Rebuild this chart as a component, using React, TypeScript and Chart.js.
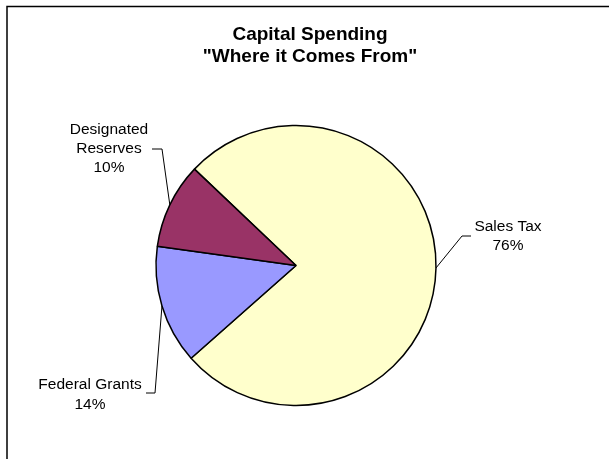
import React, { useEffect, useRef } from "react";
import { Chart, registerables } from "chart.js";

Chart.register(...registerables);

// ---- data ----
const categories = ["Sales Tax", "Federal Grants", "Designated Reserves"];
const labelNameLines = [["Sales Tax"], ["Federal Grants"], ["Designated", "Reserves"]];
const values = [76.4, 13.7, 9.9];
const sliceColors = ["#FFFFCC", "#9999FF", "#993366"];
const titleLines = ["Capital Spending", "\"Where it Comes From\""];

// ---- layout of the outside labels (canvas px) ----
const labelLayout = [
  { textX: 508, firstY: 227, lineGap: 19, elbow: [462, 236], end: [471, 236] },
  { textX: 90, firstY: 385, lineGap: 20, elbow: [155, 393], end: [146, 393] },
  { textX: 109, firstY: 130, lineGap: 19, elbow: [162, 149], end: [152, 149] },
];

const FONT = 'Arial, "Liberation Sans", sans-serif';

const decorPlugin = {
  id: "decor",
  beforeDraw(chart: any) {
    const ctx = chart.ctx;
    ctx.save();
    ctx.fillStyle = "#ffffff";
    ctx.fillRect(0, 0, chart.width, chart.height);
    // frame
    ctx.strokeStyle = "#000";
    ctx.lineWidth = 1.5;
    ctx.beginPath();
    ctx.moveTo(7, chart.height);
    ctx.lineTo(7, 6.5);
    ctx.lineTo(chart.width, 6.5);
    ctx.stroke();
    // title
    ctx.fillStyle = "#000";
    ctx.font = `bold 19px ${FONT}`;
    ctx.textAlign = "center";
    ctx.textBaseline = "alphabetic";
    ctx.fillText(titleLines[0], 310, 40);
    ctx.fillText(titleLines[1], 310, 62);
    ctx.restore();
  },
  afterDatasetsDraw(chart: any) {
    const ctx = chart.ctx;
    const meta = chart.getDatasetMeta(0);
    const data = chart.data.datasets[0].data as number[];
    const total = data.reduce((a, b) => a + b, 0);
    ctx.save();
    meta.data.forEach((arc: any, i: number) => {
      const lay = labelLayout[i];
      const mid = (arc.startAngle + arc.endAngle) / 2;
      const sx = arc.x + Math.cos(mid) * arc.outerRadius;
      const sy = arc.y + Math.sin(mid) * arc.outerRadius;
      ctx.strokeStyle = "#000";
      ctx.lineWidth = 1;
      ctx.beginPath();
      ctx.moveTo(sx, sy);
      ctx.lineTo(lay.elbow[0], lay.elbow[1]);
      ctx.lineTo(lay.end[0], lay.end[1]);
      ctx.stroke();
      const lines = [...labelNameLines[i], Math.round((data[i] / total) * 100) + "%"];
      ctx.fillStyle = "#000";
      ctx.font = `15.5px ${FONT}`;
      ctx.textAlign = "center";
      ctx.textBaseline = "middle";
      lines.forEach((t, k) => ctx.fillText(t, lay.textX, lay.firstY + k * lay.lineGap));
    });
    ctx.restore();
  },
};

export default function App() {
  const ref = useRef<HTMLCanvasElement | null>(null);
  useEffect(() => {
    if (!ref.current) return;
    const chart = new Chart(ref.current, {
      type: "pie",
      data: {
        labels: categories,
        datasets: [
          {
            data: values,
            backgroundColor: sliceColors,
            borderColor: "#000",
            borderWidth: 1.5,
          },
        ],
      },
      options: {
        responsive: false,
        animation: false,
        rotation: -46.5,
        radius: 140,
        layout: { padding: { left: 0, right: 17, top: 72, bottom: 0 } },
        plugins: {
          legend: { display: false },
          title: { display: false },
          tooltip: { enabled: false },
        },
      },
      plugins: [decorPlugin],
    });
    return () => chart.destroy();
  }, []);
  return (
    <div style={{ position: "fixed", left: 0, top: 0, width: 609, height: 459, background: "#fff" }}>
      <canvas ref={ref} width={609} height={459} />
    </div>
  );
}
